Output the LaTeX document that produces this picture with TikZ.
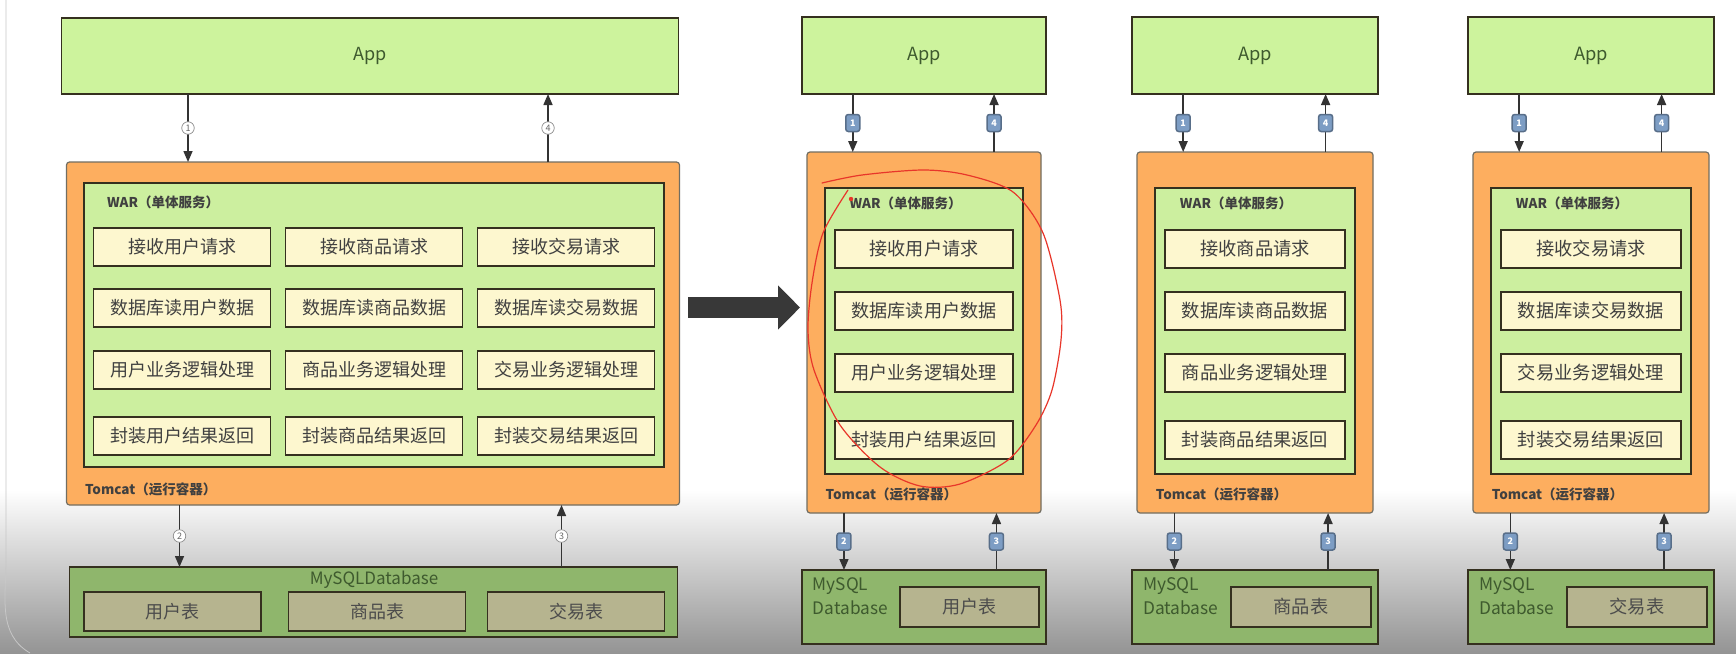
\documentclass[tikz,border=0pt]{standalone}
\usepackage{fontspec}
\setmainfont{Noto Sans CJK SC}
\usepackage{tikz}
\usetikzlibrary{arrows.meta, positioning, calc}
\definecolor{appgreen}{HTML}{CDF39D}
\definecolor{tomorange}{HTML}{FDAE5F}
\definecolor{wargreen}{HTML}{CCEF9F}
\definecolor{stepcream}{HTML}{FDF7CF}
\definecolor{dbgreen}{HTML}{8FB66C}
\definecolor{tabolive}{HTML}{B6B48F}
\definecolor{edgedark}{HTML}{35301F}
\definecolor{badgeblue}{HTML}{7D9DC4}
\definecolor{inkgreen}{HTML}{3E5A2E}
\definecolor{penred}{HTML}{E8362A}

\begin{document}
\begin{tikzpicture}[x=1pt, y=-1pt,
  every node/.style={inner sep=0pt, outer sep=0pt},
  appbox/.style={draw=edgedark, line width=1.6pt, fill=appgreen, text=inkgreen},
  tombox/.style={draw=edgedark!70, line width=1.2pt, fill=tomorange, rounded corners=3pt},
  warbox/.style={draw=edgedark, line width=1.8pt, fill=wargreen},
  stepbox/.style={draw=edgedark, line width=1.8pt, fill=stepcream, text=black!75},
  dbbox/.style={draw=edgedark, line width=1.8pt, fill=dbgreen},
  tabbox/.style={draw=edgedark, line width=1.8pt, fill=tabolive, text=black!70},
  flow/.style={draw=black!80, line width=1.5pt, -{Triangle[length=11pt, width=9pt]}},
  ring/.style={circle, draw=black!45, fill=white, line width=0.7pt, minimum size=12.5pt,
    font=\fontsize{9pt}{9pt}\selectfont, text=black!60},
  badge/.style={rectangle, rounded corners=2.5pt, draw=badgeblue!70!black, fill=badgeblue,
    minimum width=14pt, minimum height=17pt, font=\bfseries\fontsize{9pt}{9pt}\selectfont, text=white},
  captext/.style={anchor=west, font=\bfseries\fontsize{13.5pt}{13.5pt}\selectfont, text=black!75}]
  \useasboundingbox (0,0) rectangle (1736,653);
  % backdrop of the video frame
  \fill[white] (0,0) rectangle (1736,653);
  \shade[top color=white, middle color=black!10, bottom color=black!42] (0,490) rectangle (1736,653);
  \draw[black!22, line width=0.8pt] (6,0) -- (6,560) to[out=-90, in=150] (30,653);

  % monolith
  \node[appbox, minimum width=617pt, minimum height=76pt, font=\fontsize{18pt}{18pt}\selectfont] (app1) at (370,56) {App};
  \node[tombox, minimum width=613pt, minimum height=343pt] (tom1) at (373,333.5) {};
  \node[warbox, minimum width=580pt, minimum height=284pt] (war1) at (374,325) {};
  \node[captext] (warlab1) at (107,202) {WAR（单体服务）};
  \node[captext] (tomlab1) at (85,489) {Tomcat（运行容器）};
  \node[dbbox, minimum width=608pt, minimum height=70pt] (db1) at (373.5,602) {};
  \node[font=\fontsize{17pt}{17pt}\selectfont, text=inkgreen] (dblab1) at (374,580) {MySQLDatabase};
  \foreach \c/\cx/\tx/\what in {1/182/172.5/用户, 2/374/377/商品, 3/566/576/交易}
  {
    \foreach \k/\cy/\pre/\post in {1/247/接收/请求, 2/308/数据库读/数据, 3/370//业务逻辑处理, 4/436/封装/结果返回}
      \node[stepbox, minimum width=177pt, minimum height=38pt, font=\fontsize{18pt}{18pt}\selectfont] (s1-\c-\k) at (\cx,\cy) {\pre\what\post};
    \node[tabbox, minimum width=177pt, minimum height=39pt, font=\fontsize{18pt}{18pt}\selectfont] (t1-\c) at (\tx,611.5) {\what 表};
  }
  \coordinate (a1) at (188,0);
  \coordinate (b1) at (179.5,0);
  \coordinate (c1) at (561.5,0);
  \coordinate (e1) at (548,0);
  \draw[flow] (app1.south -| a1) -- (tom1.north -| a1) node[midway, ring] {1};
  \draw[flow] (tom1.south -| b1) -- (db1.north -| b1) node[midway, ring] {2};
  \draw[flow] (db1.north -| c1) -- (tom1.south -| c1) node[midway, ring] {3};
  \draw[flow] (tom1.north -| e1) -- (app1.south -| e1) node[midway, ring] {4};

  % split arrow
  \coordinate (bigtail) at (688,307.5);
  \coordinate (bighead) at (800,307.5);
  \draw[line width=21pt, draw=black!78, -{Triangle[length=22pt, width=43pt]}] (bigtail) -- (bighead);

  % split services
  \foreach \i/\xl/\pw/\what in {2/802/244/用户, 3/1132/246/商品, 4/1468/246/交易}
  {
    \pgfmathsetmacro{\cx}{\xl+\pw/2}
    \pgfmathsetmacro{\fs}{0.0743*\pw}
    \pgfmathsetmacro{\ms}{0.95*\fs}
    \pgfmathsetmacro{\mb}{1.3*\fs}
    \node[appbox, minimum width=\pw pt, minimum height=77pt, font=\fontsize{\fs pt}{\fs pt}\selectfont] (app\i) at (\cx,55.5) {App};
    \node[tombox, minimum width=\pw pt-10pt, minimum height=361pt] (tom\i) at (\cx,332.5) {};
    \node[warbox, minimum width=0.81*\pw pt, minimum height=286pt] (war\i) at (\cx,331) {};
    \node[captext] (warlab\i) at (\xl+0.195*\pw,203) {WAR（单体服务）};
    \node[captext] (tomlab\i) at (\xl+0.097*\pw,494) {Tomcat（运行容器）};
    \foreach \k/\cy/\pre/\post in {1/249/接收/请求, 2/311/数据库读/数据, 3/373//业务逻辑处理, 4/440/封装/结果返回}
      \node[stepbox, minimum width=0.73*\pw pt, minimum height=38pt, font=\fontsize{\fs pt}{\fs pt}\selectfont] (s\i-\k) at (\cx,\cy) {\pre\what\post};
    \node[dbbox, minimum width=\pw pt, minimum height=74pt] (db\i) at (\cx,607) {};
    \node[anchor=west, align=left, text=inkgreen, font=\fontsize{\ms pt}{\mb pt}\selectfont] (dblab\i) at (\xl+0.045*\pw,596) {MySQL\\Database};
    \node[tabbox, minimum width=0.57*\pw pt, minimum height=40pt, font=\fontsize{\fs pt}{\fs pt}\selectfont] (t\i) at (\xl+0.687*\pw,607) {\what 表};
    \coordinate (a\i) at (\xl+0.208*\pw,0);
    \coordinate (b\i) at (\xl+0.172*\pw,0);
    \coordinate (c\i) at (\xl+0.797*\pw,0);
    \coordinate (e\i) at (\xl+0.787*\pw,0);
    \draw[flow] (app\i.south -| a\i) -- (tom\i.north -| a\i) node[midway, badge] {1};
    \draw[flow] (tom\i.south -| b\i) -- (db\i.north -| b\i) node[midway, badge] {2};
    \draw[flow] (db\i.north -| c\i) -- (tom\i.south -| c\i) node[midway, badge] {3};
    \draw[flow] (tom\i.north -| e\i) -- (app\i.south -| e\i) node[midway, badge] {4};
  }

  % hand-drawn mark
  \draw[penred, line width=1.2pt, line cap=round] plot[smooth] coordinates {(822,183) (862,175) (923,170) (967,175) (1013,192) (1043,233) (1060,300) (1061,340) (1052,390) (1036,425) (1008,460) (960,484) (920,486) (880,467) (840,425) (814,370) (808,330) (812,283) (823,233) (848,190)};
  \fill[penred] (851,199) circle (2.2pt);
\end{tikzpicture}
\end{document}
